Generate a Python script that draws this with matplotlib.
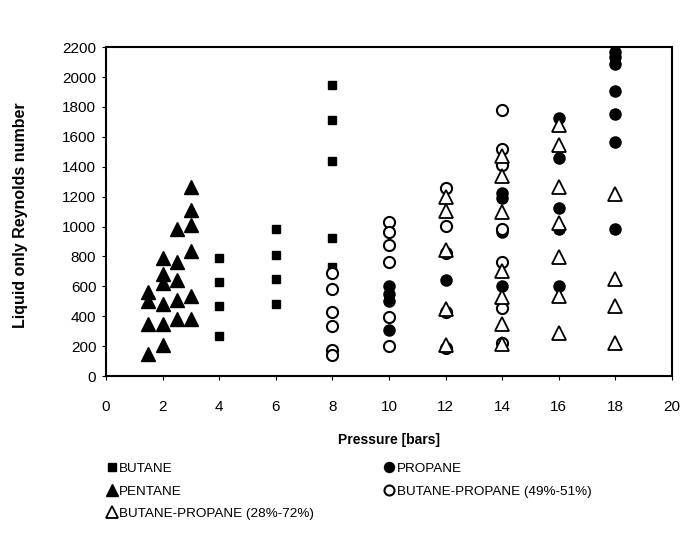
import matplotlib.pyplot as plt

# Values
butane_x = [4, 4, 4, 4, 6, 6, 6, 6, 8, 8, 8, 8, 8]
butane_y = [790, 630, 470, 265, 985, 810, 650, 480, 1945, 1710, 1435, 925, 730]

pentane_x = [1.5, 1.5, 1.5, 1.5, 2, 2, 2, 2, 2, 2, 2.5, 2.5, 2.5, 2.5, 2.5, 3, 3, 3, 3, 3, 3]
pentane_y = [560, 505, 345, 145, 790, 685, 620, 480, 345, 210, 985, 760, 645, 510, 380,
             1265, 1110, 1010, 835, 535, 380]

propane_x = [10, 10, 10, 10, 12, 14, 14, 14, 14, 14, 16, 16, 16, 16, 16,
             18, 18, 18, 18, 18, 18, 18]
propane_y = [600, 550, 505, 310, 640, 1225, 1190, 960, 600, 220, 1727, 1455, 1127, 980, 602,
             2170, 2135, 2090, 1908, 1750, 1568, 980]

bp49_x = [8, 8, 8, 8, 8, 8, 10, 10, 10, 10, 10, 10, 12, 12, 12, 12, 12,
          14, 14, 14, 14, 14, 14, 14]
bp49_y = [686, 584, 425, 335, 177, 143, 1032, 964, 878, 760, 392, 204,
          1258, 1003, 822, 427, 188, 1780, 1520, 1410, 985, 765, 455, 222]

bp28_x = [12, 12, 12, 12, 12, 14, 14, 14, 14, 14, 14, 14,
          16, 16, 16, 16, 16, 16, 16, 18, 18, 18, 18]
bp28_y = [1195, 1105, 845, 448, 210, 1470, 1340, 1100, 700, 530, 350, 215,
          1682, 1546, 1263, 1025, 799, 538, 290, 1218, 652, 471, 222]

plt.rcParams['font.family'] = ['Liberation Sans', 'DejaVu Sans']

fig = plt.figure(figsize=(6.82, 5.36), dpi=100)
ax = fig.add_axes([0.1554, 0.2985, 0.83, 0.6136])

ax.plot(butane_x, butane_y, 's', color='black', markersize=6, label='BUTANE')
ax.plot(propane_x, propane_y, 'o', color='black', markersize=8, label='PROPANE')
ax.plot(pentane_x, pentane_y, '^', color='black', markersize=10, label='PENTANE')
ax.plot(bp49_x, bp49_y, 'o', color='black', markerfacecolor='white', markersize=8,
        markeredgewidth=1.5, label='BUTANE-PROPANE (49%-51%)')
ax.plot(bp28_x, bp28_y, '^', color='black', markerfacecolor='white', markersize=10,
        markeredgewidth=1.3, label='BUTANE-PROPANE (28%-72%)')

ax.set_xlim(0, 20)
ax.set_ylim(0, 2200)
ax.set_xticks(range(0, 21, 2))
ax.set_yticks(range(0, 2201, 200))
ax.tick_params(direction='out', length=3, width=0.8, labelsize=11)
ax.tick_params(axis='x', pad=14)
ax.tick_params(axis='y', pad=4)
for s in ax.spines.values():
    s.set_linewidth(1.5)

ax.set_xlabel('Pressure [bars]', fontsize=10, fontweight='bold')
ax.set_ylabel('Liquid only Reynolds number', fontsize=11.5, fontweight='bold')
ax.xaxis.set_label_coords(0.5, -0.172)
ax.yaxis.set_label_coords(-0.138, 0.49)

# legend below the plot, two columns
handles, labels = ax.get_legend_handles_labels()
order = [0, 2, 4, 1, 3]
fig.legend([handles[i] for i in order], [labels[i] for i in order],
           loc='upper left', bbox_to_anchor=(0.15, 0.147), ncol=2, frameon=False,
           fontsize=9.7, handlelength=0.6, handletextpad=0.25, columnspacing=5.27,
           labelspacing=0.75, markerscale=0.9, borderaxespad=0)

fig.savefig('out.png', dpi=100)
